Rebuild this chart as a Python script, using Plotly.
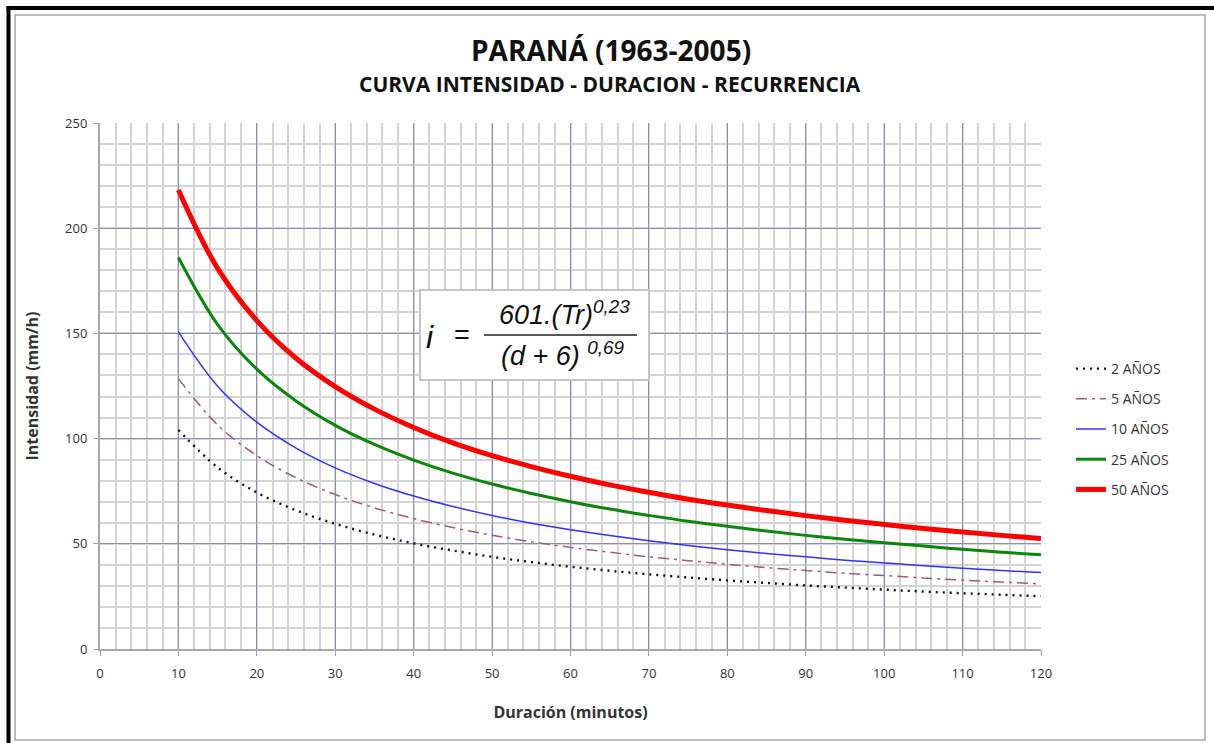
import plotly.graph_objects as go

# Duration (minutes) and rainfall intensity (mm/h) per return period
duracion = [10, 15, 20, 25, 30, 35, 40, 45, 50, 55, 60, 65, 70, 75, 80, 85,
            90, 95, 100, 105, 110, 115, 120]

tr_2 = [104.1, 86.3, 74.4, 65.9, 59.5, 54.4, 50.2, 46.8, 43.8, 41.3, 39.1, 37.2,
        35.5, 34.0, 32.6, 31.4, 30.2, 29.2, 28.2, 27.3, 26.5, 25.8, 25.1]
tr_5 = [128.5, 106.5, 91.9, 81.4, 73.4, 67.1, 62.0, 57.7, 54.1, 51.0, 48.3, 46.0,
        43.8, 42.0, 40.3, 38.7, 37.3, 36.0, 34.9, 33.8, 32.7, 31.8, 30.9]
tr_10 = [150.7, 124.9, 107.8, 95.5, 86.1, 78.7, 72.7, 67.7, 63.5, 59.8, 56.7, 53.9,
         51.4, 49.2, 47.2, 45.4, 43.8, 42.2, 40.9, 39.6, 38.4, 37.3, 36.3]
tr_25 = [186.1, 154.2, 133.0, 117.9, 106.3, 97.2, 89.8, 83.6, 78.4, 73.9, 70.0, 66.5,
         63.5, 60.7, 58.3, 56.1, 54.0, 52.2, 50.5, 48.9, 47.4, 46.0, 44.8]
tr_50 = [218.2, 180.9, 156.1, 138.2, 124.7, 114.0, 105.3, 98.0, 91.9, 86.7, 82.1, 78.0,
         74.5, 71.2, 68.4, 65.8, 63.4, 61.2, 59.2, 57.3, 55.6, 54.0, 52.5]

series_names = ["2 AÑOS", "5 AÑOS", "10 AÑOS", "25 AÑOS", "50 AÑOS"]
series_values = [tr_2, tr_5, tr_10, tr_25, tr_50]

x_ticks = [0, 10, 20, 30, 40, 50, 60, 70, 80, 90, 100, 110, 120]
y_ticks = [0, 50, 100, 150, 200, 250]

titulo = "PARANÁ (1963-2005)"
subtitulo = "CURVA INTENSIDAD - DURACION - RECURRENCIA"

line_styles = [
    dict(color="#111111", width=2.4, dash="2px,5px"),
    dict(color="#a8557f", width=1.5, dash="11px,5px,3px,5px"),
    dict(color="#3030ff", width=1.5),
    dict(color="#0a870a", width=3),
    dict(color="#ff0000", width=5),
]

W, H = 1214, 743
L, R, T, B = 100, 1041, 123, 649


def px_x(px):
    return (px - L) / (R - L)


def px_y(py):
    return (B - py) / (B - T)


fig = go.Figure()
for i, (name, vals) in enumerate(zip(series_names, series_values)):
    fig.add_trace(go.Scatter(
        x=duracion, y=vals, name=name, mode="lines",
        line=dict(shape="spline", **line_styles[i]),
        legendgroup=name,
    ))

font_main = "'Open Sans', Lato, sans-serif"
tick_font = dict(family=font_main, size=13, color="#333333")

fig.update_layout(
    width=W, height=H,
    margin=dict(l=L, r=W - R, t=T, b=H - B, autoexpand=False),
    paper_bgcolor="white", plot_bgcolor="white",
    showlegend=True,
    legend=dict(
        x=px_x(1071), y=px_y(353), xanchor="left", yanchor="top",
        font=dict(family=font_main, size=14, color="#333333"),
        tracegroupgap=9, bgcolor="rgba(0,0,0,0)",
    ),
    xaxis=dict(
        range=[0, 120], tickvals=x_ticks, ticks="outside", ticklen=5,
        tickcolor="#a0a0a0", tickfont=tick_font, ticklabelstandoff=6,
        showgrid=True, gridcolor="#8c8cc0", gridwidth=1.3,
        minor=dict(dtick=2, showgrid=True, gridcolor="#d4d4d4", gridwidth=1.6),
        showline=True, linecolor="#a8a8a8", linewidth=2,
        zeroline=False,
        title=dict(text="<b>Duración (minutos)</b>",
                   font=dict(family=font_main, size=16, color="#333333"),
                   standoff=26),
    ),
    yaxis=dict(
        range=[0, 250], tickvals=y_ticks, ticks="outside", ticklen=5,
        tickcolor="#a0a0a0", tickfont=tick_font, ticklabelstandoff=3,
        showgrid=True, gridcolor="#8c8cc0", gridwidth=1.3,
        minor=dict(dtick=10, showgrid=True, gridcolor="#d4d4d4", gridwidth=1.6),
        showline=True, linecolor="#a8a8a8", linewidth=2,
        zeroline=False,
        title=dict(text="<b>Intensidad (mm/h)</b>",
                   font=dict(family=font_main, size=16, color="#333333"),
                   standoff=22),
    ),
)

# Outer frame: thick black edge plus thin grey inner border
fig.add_shape(type="line", xref="paper", yref="paper",
              x0=px_x(8.5), x1=px_x(8.5), y0=px_y(6), y1=px_y(743),
              line=dict(color="black", width=4), layer="above")
fig.add_shape(type="line", xref="paper", yref="paper",
              x0=px_x(6.5), x1=px_x(1214), y0=px_y(8), y1=px_y(8),
              line=dict(color="black", width=4), layer="above")
fig.add_shape(type="rect", xref="paper", yref="paper",
              x0=px_x(15), x1=px_x(1205), y0=px_y(15), y1=px_y(740),
              line=dict(color="#a8a8a8", width=1.5), layer="above")

# Formula box
fig.add_shape(type="rect", xref="paper", yref="paper",
              x0=px_x(420), x1=px_x(649), y0=px_y(290), y1=px_y(380),
              fillcolor="white", line=dict(color="#c4c4c4", width=2), layer="above")
fig.add_shape(type="line", xref="paper", yref="paper",
              x0=px_x(484), x1=px_x(637), y0=px_y(335), y1=px_y(335),
              line=dict(color="#222222", width=1.6), layer="above")

formula_font = dict(family="'Liberation Sans', Arial, sans-serif", color="#111111")
fig.add_annotation(xref="paper", yref="paper", x=px_x(430), y=px_y(337),
                   yanchor="middle", text="<i>i</i>", showarrow=False,
                   font=dict(size=32, **formula_font))
fig.add_annotation(xref="paper", yref="paper", x=px_x(462), y=px_y(335),
                   yanchor="middle", text="=", showarrow=False,
                   font=dict(size=27, **formula_font))
fig.add_annotation(xref="paper", yref="paper", x=px_x(564), y=px_y(313),
                   yanchor="middle", text="<i>601.(Tr)<sup>0,23</sup></i>",
                   showarrow=False, font=dict(size=27, **formula_font))
fig.add_annotation(xref="paper", yref="paper", x=px_x(563), y=px_y(354),
                   yanchor="middle", text="<i>(d + 6) <sup>0,69</sup></i>",
                   showarrow=False, font=dict(size=27, **formula_font))

# Titles
fig.add_annotation(xref="paper", yref="paper", x=px_x(611), y=px_y(50),
                   yanchor="middle", text=f"<b>{titulo}</b>", showarrow=False,
                   font=dict(family=font_main, size=28, color="#111111"))
fig.add_annotation(xref="paper", yref="paper", x=px_x(610), y=px_y(84),
                   yanchor="middle", text=f"<b>{subtitulo}</b>", showarrow=False,
                   font=dict(family=font_main, size=21, color="#111111"))

fig.write_html("out.html")
